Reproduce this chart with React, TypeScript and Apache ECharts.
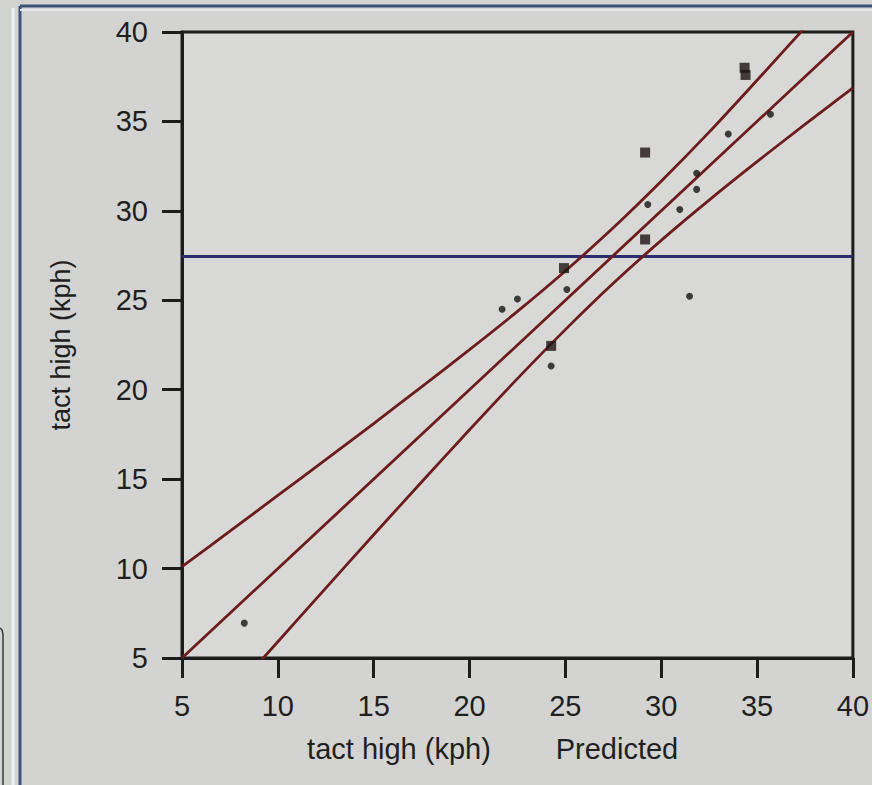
import React, { useEffect, useRef } from "react";
import * as echarts from "echarts";

// Axis ticks
const xTicks = [5, 10, 15, 20, 25, 30, 35, 40];
const yTicks = [5, 10, 15, 20, 25, 30, 35, 40];

// Observed (actual vs predicted) points, single observations
const points: [number, number][] = [
  [8.25, 6.95],
  [21.7, 24.5],
  [22.5, 25.07],
  [24.26, 21.33],
  [25.08, 25.6],
  [29.3, 30.36],
  [30.97, 30.08],
  [31.48, 25.23],
  [31.85, 31.2],
  [31.85, 32.1],
  [33.5, 34.3],
  [35.7, 35.4],
];
// Overlapping observations (drawn heavier)
const overlapPoints: [number, number][] = [
  [24.26, 22.45],
  [24.93, 26.8],
  [29.16, 28.4],
  [29.16, 33.26],
  [34.4, 37.6],
  [34.35, 38.0],
];

// Confidence curves and fit line
const curveX = [5, 7.5, 10, 12.5, 15, 17.5, 20, 22.5, 25, 27.5, 30, 32.5, 35, 37.5, 40];
const upperCurve = [10.11, 12.09, 14.09, 16.09, 18.11, 20.16, 22.24, 24.38, 26.64, 29.05, 31.65, 34.4, 37.3, 40.25, 43.2];
const lowerCurve = [-0.11, 2.91, 5.91, 8.91, 11.89, 14.84, 17.76, 20.62, 23.36, 25.95, 28.35, 30.6, 32.75, 34.83, 36.87];
const fitX = [5, 40];
const fitY = [5, 40];
const meanY = 27.45;

const FONT = "'Liberation Sans', Arial, sans-serif";
const TEXT = "#1f1f1f";

export default function App() {
  const ref = useRef<HTMLDivElement>(null);
  useEffect(() => {
    if (!ref.current) return;
    const chart = echarts.init(ref.current, null, { renderer: "svg" });
    const curveColor = "#6c1c1c";
    const option: any = {
      animation: false,
      backgroundColor: "#d3d4d2",
      grid: {
        left: 182,
        top: 32,
        right: 14,
        bottom: 127,
        show: true,
        backgroundColor: "#d8d8d6",
        borderColor: "#1c1c1c",
        borderWidth: 3,
      },
      xAxis: {
        type: "value",
        min: 5,
        max: 40,
        interval: 5,
        axisLine: { lineStyle: { color: "#1c1c1c", width: 3 } },
        axisTick: { show: true, inside: false, length: 20, lineStyle: { color: "#1c1c1c", width: 3 } },
        axisLabel: {
          margin: 33,
          fontSize: 29,
          color: TEXT,
          fontFamily: FONT,
          formatter: (v: number) => (xTicks.includes(v) ? String(v) : ""),
        },
        splitLine: { show: false },
      },
      yAxis: {
        type: "value",
        min: 5,
        max: 40,
        interval: 5,
        name: "tact high (kph)",
        nameLocation: "middle",
        nameGap: 108,
        nameTextStyle: { fontSize: 27, color: TEXT, fontFamily: FONT },
        axisLine: { lineStyle: { color: "#1c1c1c", width: 3 } },
        axisTick: { show: true, inside: false, length: 20, lineStyle: { color: "#1c1c1c", width: 3 } },
        axisLabel: {
          margin: 34,
          fontSize: 29,
          color: TEXT,
          fontFamily: FONT,
          formatter: (v: number) => (yTicks.includes(v) ? String(v) : ""),
        },
        splitLine: { show: false },
      },
      graphic: [
        { type: "line", shape: { x1: 13, y1: 8, x2: 13, y2: 785 }, style: { stroke: "#eef1f5", lineWidth: 3 } },
        { type: "line", shape: { x1: 20, y1: 6, x2: 20, y2: 785 }, style: { stroke: "#3e4f78", lineWidth: 3 } },
        { type: "line", shape: { x1: 20, y1: 6, x2: 872, y2: 6 }, style: { stroke: "#3e4f78", lineWidth: 3 } },
        { type: "line", shape: { x1: 20, y1: 10, x2: 872, y2: 10 }, style: { stroke: "#e3e6ea", lineWidth: 2 } },
        {
          type: "polyline",
          shape: { points: [[0, 628], [2, 630], [3, 634], [3, 785]] },
          style: { stroke: "#3a3a3a", lineWidth: 1.5, fill: "none" },
        },
        {
          type: "text",
          style: {
            text: "tact high (kph)",
            x: 399,
            y: 749,
            align: "center",
            verticalAlign: "middle",
            fontSize: 29,
            fill: TEXT,
            fontFamily: FONT,
          },
        },
        {
          type: "text",
          style: {
            text: "Predicted",
            x: 617,
            y: 749,
            align: "center",
            verticalAlign: "middle",
            fontSize: 29,
            fill: TEXT,
            fontFamily: FONT,
          },
        },
      ],
      series: [
        {
          type: "line",
          data: [
            [5, meanY],
            [40, meanY],
          ],
          symbol: "none",
          lineStyle: { color: "#2c2d6e", width: 3 },
          z: 3,
        },
        {
          type: "line",
          data: curveX.map((x, i) => [x, upperCurve[i]]),
          symbol: "none",
          smooth: 0.3,
          clip: true,
          lineStyle: { color: curveColor, width: 2.8 },
          z: 4,
        },
        {
          type: "line",
          data: curveX.map((x, i) => [x, lowerCurve[i]]),
          symbol: "none",
          smooth: 0.3,
          clip: true,
          lineStyle: { color: curveColor, width: 2.8 },
          z: 4,
        },
        {
          type: "line",
          data: fitX.map((x, i) => [x, fitY[i]]),
          symbol: "none",
          lineStyle: { color: curveColor, width: 2.8 },
          z: 4,
        },
        {
          type: "scatter",
          data: points,
          symbol: "circle",
          symbolSize: 7,
          itemStyle: { color: "#141414" },
          z: 5,
        },
        {
          type: "scatter",
          data: overlapPoints,
          symbol: "rect",
          symbolSize: 10,
          itemStyle: { color: "#1e1414" },
          z: 5,
        },
      ],
    };
    chart.setOption(option);
    return () => chart.dispose();
  }, []);
  return (
    <div
      ref={ref}
      style={{ position: "fixed", left: 0, top: 0, width: 872, height: 785 }}
    />
  );
}
